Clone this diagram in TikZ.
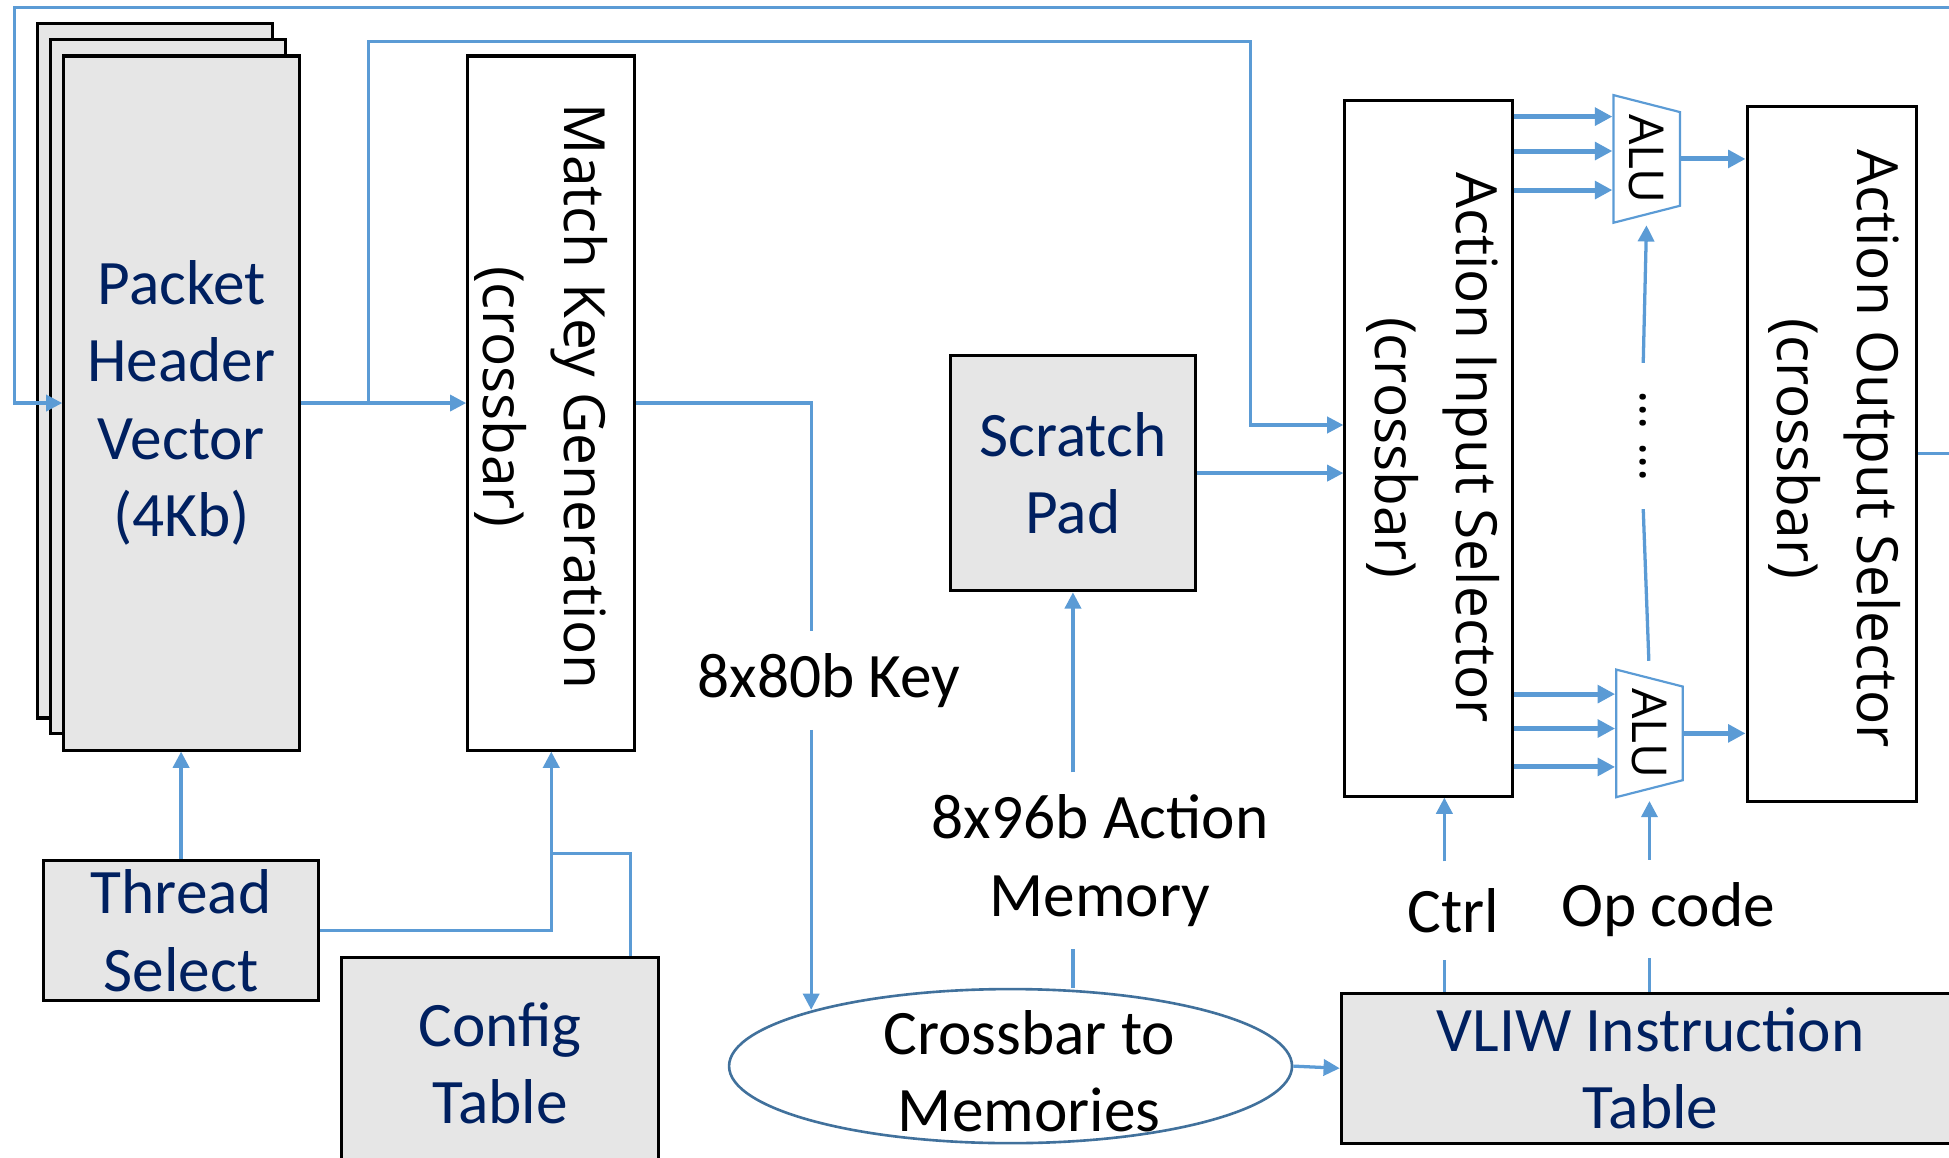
\documentclass[tikz,border=0pt]{standalone}
\usepackage{fontspec}
\setmainfont{Carlito}
\newfontfamily\sideFont{Open Sans}
\usetikzlibrary{arrows.meta,shapes.geometric,calc}
\definecolor{lineblue}{HTML}{5B9BD5}
\definecolor{textblue}{HTML}{002060}
\definecolor{boxgray}{HTML}{E6E6E6}
\definecolor{ringblue}{HTML}{41719C}
\tikzset{
	box/.style={draw=black, line width=1.4pt, inner sep=0pt, align=center},
	graybox/.style={box, fill=boxgray, text=textblue, font=\fontsize{29}{35.4}\selectfont},
	whitebox/.style={box, fill=white},
	sidetext/.style={rotate=-90, align=center, inner sep=0pt, font=\sideFont\fontsize{26}{37}\selectfont},
	lbl/.style={inner sep=0pt, align=center, font=\fontsize{29}{35.4}\selectfont},
	link/.style={draw=lineblue, line width=1.5pt},
	arr/.style={link, -{Triangle[length=0.26cm, width=0.26cm]}},
	fatarr/.style={draw=lineblue, line width=2.3pt, -{Triangle[length=0.28cm, width=0.28cm]}},
	alu/.style={trapezium, trapezium stretches=true, trapezium angle=65, draw=lineblue, line width=1pt,
		rotate=-90, minimum width=2.06cm, minimum height=1.07cm, inner sep=0pt,
		font=\sideFont\fontsize{22}{26}\selectfont}
}
\begin{document}
\begin{tikzpicture}[x=0.02cm, y=-0.02cm]
			%%%%% START %%%%%
			\useasboundingbox (0,0) rectangle (1568,931);
			\clip (0,0) rectangle (1568,931);
			
			\node[graybox, minimum width=3.79cm, minimum height=11.17cm] (phvback) at (124.75,298.45) {};
			\node[graybox, minimum width=3.79cm, minimum height=11.17cm] (phvmid) at (135.2,311.05) {};
			\node[graybox, minimum width=3.79cm, minimum height=11.17cm] (phv) at (146,324.25) {Packet\\Header\\Vector\\(4Kb)};
			
			\node[whitebox, minimum width=2.69cm, minimum height=11.17cm] (mkg) at (443.5,324.25) {};
			\node[sidetext] (mkgtext) at (435.5,319) {Match Key Generation\\(crossbar)};
			
			\node[graybox, minimum width=4.43cm, minimum height=2.25cm] (thread) at (145.7,748.85) {Thread\\Select};
			\node[graybox, minimum width=5.11cm, minimum height=3.39cm] (config) at (402.25,855.35) {Config\\Table};
			
			\node[graybox, minimum width=3.94cm, minimum height=3.79cm] (pad) at (863.2,380.6) {Scratch\\Pad};
			\node[ellipse, draw=ringblue, line width=1.2pt, fill=white, minimum width=9.06cm, minimum height=2.48cm,
				label={[lbl, xshift=0.3cm, yshift=-0.08cm]center:{Crossbar to\\Memories}}] (xbar) at (813,857.7) {};
			\node[graybox, minimum width=9.96cm, minimum height=2.42cm] (vliw) at (1328,859.4) {VLIW Instruction\\Table};
			
			\node[whitebox, minimum width=2.69cm, minimum height=11.2cm] (ais) at (1149.2,360.5) {};
			\node[sidetext] (aistext) at (1153,360) {Action Input Selector\\(crossbar)};
			\node[whitebox, minimum width=2.73cm, minimum height=11.18cm] (aos) at (1473.75,365.1) {};
			\node[sidetext] (aostext) at (1476,361) {Action Output Selector\\(crossbar)};
			
			\node[alu] (alu1) at (1324.8,127.85) {ALU};
			\node[alu] (alu2) at (1327,590) {ALU};
			\node[sidetext, font=\sideFont\fontsize{23}{26}\selectfont, minimum width=2.34cm] (dots) at (1322,350.8) {\dots\ \dots};
			
			\node[lbl, minimum height=1.58cm] (keylbl) at (667,547.4) {8x80b Key};
			\node[lbl, minimum height=2.82cm] (memlbl) at (885,692.25) {8x96b Action\\Memory};
			\node[lbl, minimum height=1.57cm] (ctrllbl) at (1169,732.5) {Ctrl};
			\node[lbl, minimum height=1.57cm] (oplbl) at (1342,731.4) {Op code};
			
			\draw[arr] (aos.east) -- ++(60,0) |- (11.8,6.2) |- (phv.west);
			\draw[arr] (phv.east) -- (mkg.west);
			\coordinate (split) at (296.2,324.25);
			\draw[arr] (split) |- (1006,33.4) |- (ais.west |- 0,341.9);
			
			\coordinate (keyx) at (652.6,0);
			\draw[link] (mkg.east) -| (keyx |- keylbl.north);
			\draw[arr] (keyx |- keylbl.south) -- (keyx |- xbar.164.7);
			
			\draw[arr] (thread.north) -- (thread.north |- phv.south);
			\draw[arr] (thread.east) -| (mkg.south);
			\draw[link] (config.north -| 507,0) |- (mkg.south |- 0,686.4);
			
			\draw[arr] (pad.east) -- (ais.west |- pad.east);
			\draw[arr] (memlbl.north -| pad.south) -- (pad.south);
			\draw[link] (xbar.north -| pad.south) -- (memlbl.south -| pad.south);
			\draw[arr] (xbar.east) -- (vliw.west);
			
			\coordinate (ctrlx) at (1162,0);
			\draw[arr] (ctrlx |- ctrllbl.north) -- (ctrlx |- ais.south);
			\draw[link] (ctrlx |- vliw.north) -- (ctrlx |- ctrllbl.south);
			\draw[arr, shorten >=0.18cm] (alu2.east |- oplbl.north) -- (alu2.east);
			\draw[link] (alu2.east |- vliw.north) -- (alu2.east |- oplbl.south);
			
			\foreach \yy in {93.8,121.5,152.9} \draw[fatarr] (ais.east |- 0,\yy) -- (alu1.south |- 0,\yy);
			\foreach \yy in {558.4,586.1,617} \draw[fatarr] (ais.east |- 0,\yy) -- (alu2.south |- 0,\yy);
			\draw[fatarr] (alu1.north) -- (aos.west |- alu1.north);
			\draw[fatarr] (alu2.north) -- (aos.west |- alu2.north);
			
			\draw[link, shorten <=0.26cm] (alu2.west) -- (dots.east);
			\draw[arr, shorten >=0.16cm] (dots.west) -- (alu1.east);
			%%%%% END %%%%%
\end{tikzpicture}
\end{document}
